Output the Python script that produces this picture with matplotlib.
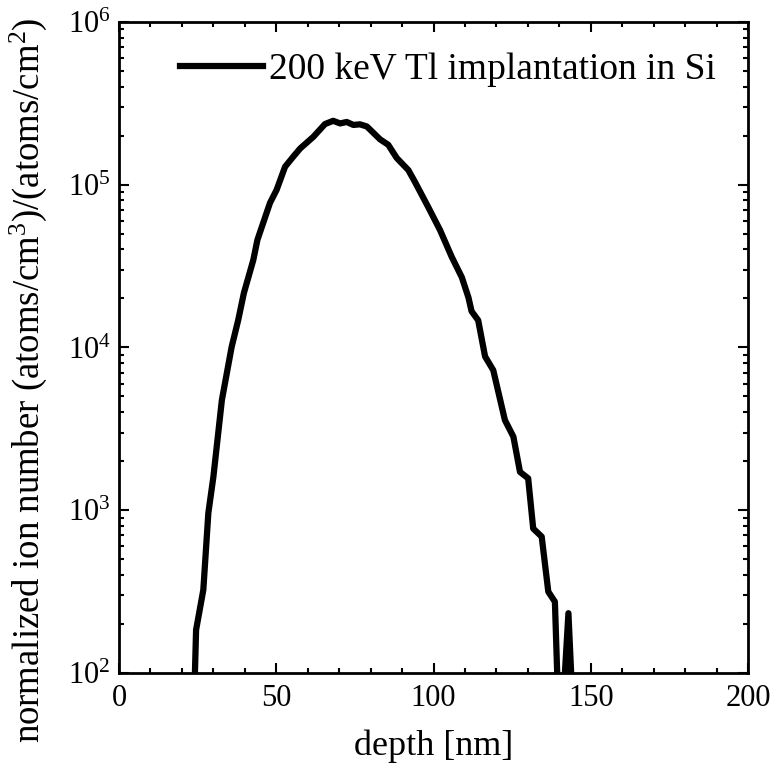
import matplotlib
matplotlib.use("Agg")
import matplotlib.pyplot as plt
import numpy as np
from matplotlib.ticker import LogLocator, MultipleLocator, LogFormatterMathtext

plt.rcParams['font.family'] = 'Liberation Serif'
plt.rcParams['mathtext.fontset'] = 'custom'
plt.rcParams['mathtext.rm'] = 'Liberation Serif'
plt.rcParams['mathtext.it'] = 'Liberation Serif:italic'

# depth profile (values below 1e2 fall off the axis)
depth_nm = [23.4, 24.5, 26.8, 28.4, 30.0, 32.7, 35.8, 37.9, 39.7, 42.7,
            44.0, 48.0, 50.1, 52.8, 55.4, 57.6, 61.8, 65.5, 68.1, 70.3,
            72.4, 74.5, 76.6, 78.8, 83.0, 85.6, 88.3, 92.0, 94.1, 98.3,
            102.1, 105.8, 109.0, 111.1, 112.1, 114.2, 116.4, 119.0, 122.7, 125.4,
            127.5, 130.1, 131.7, 134.4, 136.5, 138.6, 140.2, 142.9, 145.0]
ion_number = [30, 184, 324, 963, 1603, 4750, 10060, 14750, 21600, 34500,
              45800, 77300, 92900, 129000, 148700, 167000, 197000, 236000, 247000, 238000,
              243000, 233000, 235000, 228000, 190000, 176000, 146000, 123000, 104000, 73000,
              52500, 36000, 27000, 20300, 16700, 14700, 8800, 7250, 3580, 2830,
              1720, 1570, 772, 688, 316, 274, 30, 233, 30]
series_label = '200 keV Tl implantation in Si'

fig = plt.figure(figsize=(7.76, 7.68), dpi=100)
ax = fig.add_axes([0.1534, 0.1237, 0.8105, 0.8477])

ax.plot(depth_nm, ion_number, color='black', lw=4.5, label=series_label,
        solid_joinstyle='round')

ax.set_yscale('log')
ax.set_xlim(0, 200)
ax.set_ylim(1e2, 1e6)

ax.xaxis.set_major_locator(MultipleLocator(50))
ax.xaxis.set_minor_locator(MultipleLocator(10))
ax.yaxis.set_major_locator(LogLocator(base=10, numticks=10))
ax.yaxis.set_minor_locator(LogLocator(base=10, subs=np.arange(2, 10), numticks=20))
ax.yaxis.set_major_formatter(LogFormatterMathtext())

ax.tick_params(which='both', direction='in', top=True, right=True, width=1.5)
ax.tick_params(which='major', length=7, labelsize=22)
ax.tick_params(axis='x', which='major', pad=8)
ax.tick_params(axis='y', which='major', pad=6)
ax.tick_params(which='minor', length=3.5)
for sp in ax.spines.values():
    sp.set_linewidth(2)

ax.set_xlabel('depth [nm]', fontsize=26, labelpad=12)
ax.set_ylabel(r'normalized ion number (atoms/cm$^3$)/(atoms/cm$^2$)', fontsize=26.5)
ax.yaxis.set_label_coords(-0.112, 0.45)

ax.legend(loc='center left', bbox_to_anchor=(0.097, 0.926), frameon=False,
          fontsize=27, handlelength=2.2, handletextpad=0.16, borderpad=0,
          borderaxespad=0)

fig.savefig('out.png', dpi=100)
